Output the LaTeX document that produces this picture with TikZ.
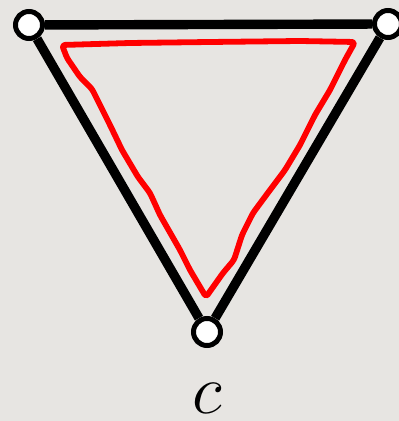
\documentclass[tikz,border=0pt]{standalone}
\usepackage{fix-cm}
\usepackage{amssymb,amsmath}
\usepackage{tikz}
\definecolor{paper}{RGB}{231,229,226}
\definecolor{pen}{RGB}{255,0,0}
\newcommand{\biglabel}{\fontsize{35}{40}\selectfont}

\begin{document}
\begin{tikzpicture}[x=0.5pt,y=-0.5pt,
    vertex/.style={circle,draw=black,fill=white,line width=2.5pt,minimum size=13.5pt,inner sep=0pt},
    edge/.style={line width=4.7pt,black},
    walk/.style={line width=2.9pt,pen,line join=round,line cap=round,rounded corners=1.5pt}]

\fill[paper] (0,0) rectangle (399,421);
\useasboundingbox (0,0) rectangle (399,421);

\node[vertex] (a) at (29,25) {};
\node[vertex] (b) at (388,24) {};
\node[vertex,label={[font=\biglabel,inner sep=0pt,label distance=17.5pt]below:$c$}] (c) at (207,332) {};

\draw[edge] (a) -- (b);
\draw[edge] (b) -- (c);
\draw[edge] (c) -- (a);

% closed walk drawn by hand
\draw[walk] (62,45) -- (130,43) -- (210,42) -- (300,41) -- (355,42)
  -- (345,60) -- (330,90) -- (315,115) -- (300,145) -- (285,170)
  -- (270,190) -- (253,213) -- (242,235) -- (234,260) -- (223,273) -- (206,297)
  -- (190,270) -- (180,250) -- (160,215) -- (150,193) -- (138,177)
  -- (122,150) -- (110,125) -- (100,105) -- (92,89) -- (80,77) -- (67,58) -- cycle;
\end{tikzpicture}
\end{document}
